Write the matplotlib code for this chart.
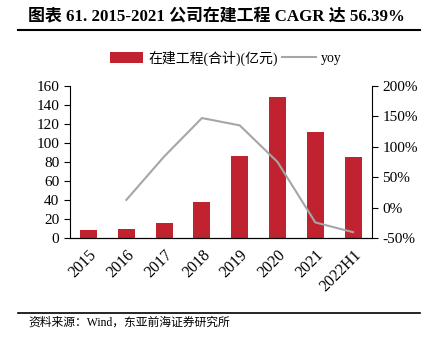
import matplotlib
matplotlib.use("Agg")
import matplotlib.pyplot as plt
from matplotlib.lines import Line2D

plt.rcParams['font.family'] = ['Liberation Serif', 'Noto Sans CJK SC']

years = ["2015", "2016", "2017", "2018", "2019", "2020", "2021", "2022H1"]
amount = [8.4, 9.4, 15.7, 37.7, 86.6, 148.4, 111.7, 85.5]   # 亿元
yoy = [None, 13, 84, 147, 135, 75, -24, -40]                # %

bar_color = "#C0232F"
line_color = "#A6A6A6"

fig = plt.figure(figsize=(4.27, 3.45), dpi=100)
ax = fig.add_axes([69.7 / 427, 1 - 238.3 / 345, (372 - 69.7) / 427, (238.3 - 85.7) / 345])

x = list(range(len(years)))
bars = ax.bar(x, amount, width=0.45, color=bar_color, zorder=2)
ax.set_xlim(-0.5, len(years) - 0.5)
ax.set_ylim(0, 160)
ax.set_yticks(range(0, 161, 20))
ax.set_xticks(x)
ax.set_xticklabels(years, rotation=45, ha="right", rotation_mode="anchor", fontsize=11.5)
ax.tick_params(axis="x", length=0, pad=6)
ax.tick_params(axis="y", labelsize=11, length=4, direction="out")
ax.spines["top"].set_visible(False)
ax.spines["right"].set_visible(False)

ax2 = ax.twinx()
xs = [i for i, v in zip(x, yoy) if v is not None]
ys = [v for v in yoy if v is not None]
ax2.plot(xs, ys, color=line_color, lw=1.5, zorder=3)
ax2.set_ylim(-50, 200)
ax2.set_yticks(range(-50, 201, 50))
ax2.set_yticklabels([f"{v}%" for v in range(-50, 201, 50)])
ax2.tick_params(axis="y", labelsize=11, length=4, direction="out")
ax2.spines["top"].set_visible(False)
ax2.spines["left"].set_visible(False)

handles = [bars, Line2D([], [], color=line_color, lw=1.5)]
fig.legend(handles, ["在建工程(合计)(亿元)", "yoy"], loc="center",
           bbox_to_anchor=(226 / 427, 1 - 58 / 345), ncol=2, frameon=False,
           fontsize=10, handlelength=2.4, handleheight=0.9, columnspacing=0.3,
           handletextpad=0.4)

fig.text(28 / 427, 1 - 17 / 345, "图表 61. 2015-2021 公司在建工程 CAGR 达 56.39%",
         fontsize=12.2, fontweight="bold", va="center", ha="left")
fig.add_artist(Line2D([18 / 427, 420 / 427], [1 - 30 / 345] * 2, color="black", lw=1.5))
fig.add_artist(Line2D([18 / 427, 420 / 427], [1 - 313 / 345] * 2, color="black", lw=1.2))
fig.text(28 / 427, 1 - 323 / 345, "资料来源：Wind，东亚前海证券研究所",
         fontsize=8.5, va="center", ha="left")

fig.savefig("out.png", dpi=100)
